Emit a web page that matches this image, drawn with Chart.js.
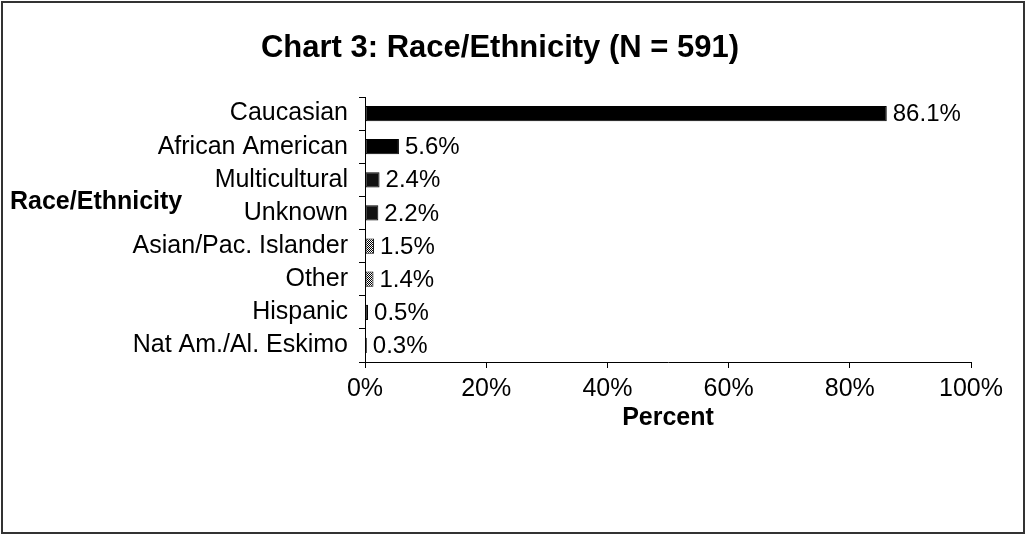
<!DOCTYPE html>
<html>
<head>
<meta charset="utf-8">
<script src="https://cdn.jsdelivr.net/npm/chart.js@4"></script>
<style>
html,body{margin:0;padding:0;background:#fff;}
#wrap{position:relative;width:1026px;height:535px;}
</style>
</head>
<body>
<div id="wrap"><canvas id="c" width="1026" height="535"></canvas></div>
<script>
const categories = ["Caucasian","African American","Multicultural","Unknown","Asian/Pac. Islander","Other","Hispanic","Nat Am./Al. Eskimo"];
const percentValues = [86.1, 5.6, 2.4, 2.2, 1.5, 1.4, 0.5, 0.3];
const valueLabels = ["86.1%","5.6%","2.4%","2.2%","1.5%","1.4%","0.5%","0.3%"];
const xTickLabels = ["0%","20%","40%","60%","80%","100%"];
const chartTitle = "Chart 3: Race/Ethnicity (N = 591)";
const yTitle = "Race/Ethnicity";
const xTitle = "Percent";

const FONT = "'Liberation Sans', Arial, sans-serif";

function makePattern(){
  const p = document.createElement('canvas');
  p.width = 2; p.height = 2;
  const g = p.getContext('2d');
  g.fillStyle = '#fff'; g.fillRect(0,0,2,2);
  g.fillStyle = '#000'; g.fillRect(0,0,1,1); g.fillRect(1,1,1,1);
  return g.createPattern(p,'repeat');
}
const pat = makePattern();
const fills = ['#000','#000','#111','#111',pat,pat,'#000','#000'];

const extras = {
  id:'extras',
  afterDraw(chart){
    const ctx = chart.ctx;
    ctx.save();
    ctx.strokeStyle = '#333';
    ctx.lineWidth = 2;
    ctx.strokeRect(2,2,1022,531);
    ctx.fillStyle = '#000';
    ctx.font = "bold 31px " + FONT;
    ctx.textAlign = 'center';
    ctx.textBaseline = 'middle';
    ctx.fillText(chartTitle, 500, 48);
    ctx.font = "bold 25px " + FONT;
    ctx.textAlign = 'left';
    ctx.fillText(yTitle, 10, 202);
    ctx.font = "24px " + FONT;
    const meta = chart.getDatasetMeta(0);
    meta.data.forEach((bar,i)=>{
      ctx.fillText(valueLabels[i], bar.x + 6, bar.y + 1);
    });
    ctx.restore();
  }
};

new Chart(document.getElementById('c'), {
  type:'bar',
  data:{
    labels: categories,
    datasets:[{
      data: percentValues,
      backgroundColor: fills,
      borderColor:'#000',
      borderWidth:1,
      borderSkipped:false,
      barPercentage:0.46,
      categoryPercentage:1
    }]
  },
  options:{
    indexAxis:'y',
    responsive:false,
    animation:false,
    events:[],
    layout:{padding:{top:97, right:55, bottom:102, left:0}},
    plugins:{legend:{display:false}, tooltip:{enabled:false}, title:{display:false}},
    scales:{
      x:{
        min:0, max:100,
        ticks:{stepSize:20, color:'#000', font:{family:FONT, size:25}, padding:6,
          callback:(v,i)=>xTickLabels[i]},
        grid:{drawOnChartArea:false, drawTicks:true, tickLength:6, color:'#000', lineWidth:1},
        border:{display:true, color:'#000', width:1},
        title:{display:true, text:xTitle, color:'#000', font:{family:FONT, size:25, weight:'bold'}, padding:{top:0,bottom:0}},
        afterFit(s){ s.height = 71; }
      },
      y:{
        ticks:{color:'#000', font:{family:FONT, size:25}, padding:11},
        grid:{drawOnChartArea:false, drawTicks:true, tickLength:6, color:'#000', lineWidth:1, offset:true},
        border:{display:true, color:'#000', width:1},
        afterFit(s){ s.width = 365; }
      }
    }
  },
  plugins:[extras]
});
</script>
</body>
</html>
